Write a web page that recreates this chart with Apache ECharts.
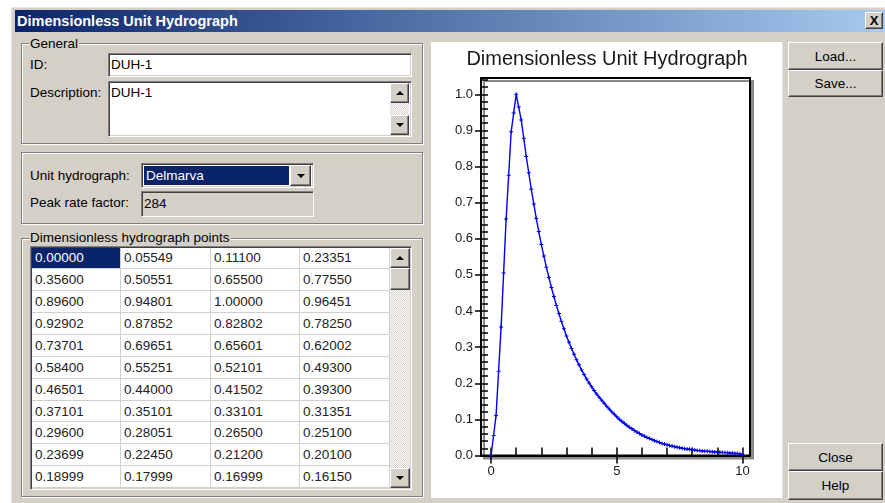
<!DOCTYPE html>
<html><head><meta charset="utf-8">
<script src="https://cdn.jsdelivr.net/npm/echarts@6/dist/echarts.min.js"></script>
<style>
*{box-sizing:border-box;margin:0;padding:0}
body{width:885px;height:503px;background:#fff;position:relative;overflow:hidden;font-family:"Liberation Sans",Arial,sans-serif;font-size:13.5px;color:#000}
.abs{position:absolute}
.dlg{left:11px;top:7px;width:874px;height:496px;background:#d4d0c8;border-left:1px solid #e8e6e2;border-top:1px solid #e8e6e2}
.titlebar{left:15px;top:10px;width:870px;height:22px;background:linear-gradient(to right,#0a246a,#a6caf0);color:#fff;font-weight:bold;font-size:14.5px;line-height:22px;padding-left:2px;white-space:nowrap}
.raised{background:#d4d0c8;border:1px solid;border-color:#fff #404040 #404040 #fff;box-shadow:inset -1px -1px 0 #808080,inset 1px 1px 0 #d4d0c8}
.sunken{border:1px solid;border-color:#808080 #fff #fff #808080;box-shadow:inset 1px 1px 0 #404040,inset -1px -1px 0 #d4d0c8}
.grp{border:1px solid #808080;box-shadow:inset 1px 1px 0 #fff,1px 1px 0 #fff}
.lg{background:#d4d0c8;padding:0 1px;line-height:15px;white-space:nowrap}
.lbl{line-height:15px;white-space:nowrap}
.btn{display:flex;align-items:center;justify-content:center;white-space:nowrap}
.tu{width:0;height:0;border-left:4px solid transparent;border-right:4px solid transparent;border-bottom:4px solid #000}
.td{width:0;height:0;border-left:4px solid transparent;border-right:4px solid transparent;border-top:4px solid #000}
.track{background:repeating-conic-gradient(#fff 0 25%,#d4d0c8 0 50%) 0 0/2px 2px}
.cell{background:#fff;border-right:1px solid #d0d0d0;border-bottom:1px solid #d0d0d0;padding-left:3px;display:flex;align-items:center;white-space:nowrap;color:#222}
.cell.sel{background:#0a246a;color:#fff}
</style>
</head>
<body>
<div class="abs dlg"></div>
<div class="abs titlebar">Dimensionless Unit Hydrograph</div>
<div class="abs raised btn" style="left:865px;top:12px;width:18px;height:17px;font-weight:bold;font-size:13px">X</div>

<!-- General group -->
<div class="abs grp" style="left:21px;top:43px;width:402px;height:101px"></div>
<div class="abs lg" style="left:29px;top:36px">General</div>
<div class="abs lbl" style="left:30px;top:57px">ID:</div>
<div class="abs sunken" style="left:108px;top:53px;width:304px;height:24px;background:#fff"></div>
<div class="abs lbl" style="left:111px;top:57px">DUH-1</div>
<div class="abs lbl" style="left:30px;top:85px">Description:</div>
<div class="abs sunken" style="left:108px;top:81px;width:304px;height:56px;background:#fff"></div>
<div class="abs lbl" style="left:111px;top:85px">DUH-1</div>
<div class="abs raised btn" style="left:390px;top:83px;width:19px;height:20px"><div class="tu"></div></div>
<div class="abs track" style="left:390px;top:103px;width:19px;height:12px"></div>
<div class="abs raised btn" style="left:390px;top:115px;width:19px;height:20px"><div class="td"></div></div>

<!-- Unit hydrograph group -->
<div class="abs grp" style="left:21px;top:152px;width:402px;height:72px"></div>
<div class="abs lbl" style="left:30px;top:168px">Unit hydrograph:</div>
<div class="abs sunken" style="left:141px;top:163px;width:173px;height:25px;background:#fff"></div>
<div class="abs lbl" style="left:144px;top:166px;width:145px;height:19px;background:#0a246a;color:#fff;line-height:19px;padding-left:2px">Delmarva</div>
<div class="abs raised btn" style="left:290px;top:165px;width:21px;height:21px"><div class="td"></div></div>
<div class="abs lbl" style="left:30px;top:195px">Peak rate factor:</div>
<div class="abs sunken" style="left:141px;top:191px;width:173px;height:26px;background:#d4d0c8"></div>
<div class="abs lbl" style="left:144px;top:196px">284</div>

<!-- Points group -->
<div class="abs grp" style="left:21px;top:238px;width:402px;height:259px"></div>
<div class="abs lg" style="left:29px;top:230px">Dimensionless hydrograph points</div>
<div class="abs sunken" style="left:30px;top:246px;width:382px;height:244px;background:#fff"></div>
<div id="cells"></div>
<div class="abs raised btn" style="left:390px;top:248px;width:20px;height:20px"><div class="tu"></div></div>
<div class="abs raised" style="left:390px;top:268px;width:20px;height:22px"></div>
<div class="abs track" style="left:390px;top:290px;width:20px;height:178px"></div>
<div class="abs raised btn" style="left:390px;top:468px;width:20px;height:20px"><div class="td"></div></div>

<!-- Chart panel -->
<div class="abs" style="left:431px;top:42px;width:352px;height:456px;background:#fff;border-right:1px solid #e4e2de"></div>
<div id="chart" class="abs" style="left:431px;top:42px;width:352px;height:456px"></div>

<!-- Right buttons -->
<div class="abs raised btn" style="left:788px;top:42px;width:95px;height:28px">Load...</div>
<div class="abs raised btn" style="left:788px;top:70px;width:95px;height:27px">Save...</div>
<div class="abs raised btn" style="left:788px;top:443px;width:95px;height:28px">Close</div>
<div class="abs raised btn" style="left:788px;top:471px;width:95px;height:29px">Help</div>

<script>
// ---- Data ----
const timeStep = 0.1;
const duhOrdinates = [
  0.00000,0.05549,0.11100,0.23351,0.35600,0.50551,0.65500,0.77550,0.89600,0.94801,
  1.00000,0.96451,0.92902,0.87852,0.82802,0.78250,0.73701,0.69651,0.65601,0.62002,
  0.58400,0.55251,0.52101,0.49300,0.46501,0.44000,0.41502,0.39300,0.37101,0.35101,
  0.33101,0.31351,0.29600,0.28051,0.26500,0.25100,0.23699,0.22450,0.21200,0.20100,
  0.18999,0.17999,0.16999,0.16150,0.15300,0.14450,0.13601,0.12850,0.12100,0.11400,
  0.10700,0.10051,0.09450,0.08901,0.08350,0.07850,0.07400,0.06950,0.06500,0.06100,
  0.05700,0.05350,0.05001,0.04700,0.04400,0.04100,0.03850,0.03600,0.03350,0.03150,
  0.02950,0.02750,0.02600,0.02450,0.02300,0.02150,0.02000,0.01900,0.01800,0.01700,
  0.01600,0.01500,0.01400,0.01350,0.01250,0.01200,0.01150,0.01100,0.01050,0.01000,
  0.00950,0.00900,0.00850,0.00800,0.00750,0.00700,0.00650,0.00600,0.00550,0.00450,
  0.00100
];
const xLabels = [0, 5, 10];
const xMinorTicks = [0,1,2,3,4,5,6,7,8,9,10];
const yLabels = [0,0.1,0.2,0.3,0.4,0.5,0.6,0.7,0.8,0.9,1.0];
const yMinorTicks = [0,0.02,0.04,0.06,0.08,0.1,0.12,0.14,0.16,0.18,0.2,0.22,0.24,0.26,0.28,0.3,0.32,0.34,0.36,0.38,0.4,0.42,0.44,0.46,0.48,0.5,0.52,0.54,0.56,0.58,0.6,0.62,0.64,0.66,0.68,0.7,0.72,0.74,0.76,0.78,0.8,0.82,0.84,0.86,0.88,0.9,0.92,0.94,0.96,0.98,1.0,1.02,1.04];
const tableRows = 11, tableCols = 4;

// ---- Table ----
const colEdges = [32,121,211,300,390];
const rowTop = 247.5, rowH = 21.87;
let html = '';
for (let r = 0; r < tableRows; r++) {
  for (let c = 0; c < tableCols; c++) {
    const v = duhOrdinates[r * tableCols + c];
    html += '<div class="abs cell' + (r === 0 && c === 0 ? ' sel' : '') + '" style="left:' + colEdges[c] + 'px;top:' + (rowTop + r * rowH) + 'px;width:' + (colEdges[c+1]-colEdges[c]) + 'px;height:' + rowH + 'px">' + v.toFixed(5) + '</div>';
  }
}
document.getElementById('cells').innerHTML = html;

// ---- Chart ----
const FF = '"Liberation Sans", Arial, sans-serif';
const seriesData = duhOrdinates.map((v, i) => [+(i * timeStep).toFixed(2), v]);
const xMin = -0.4, xMax = 10.3, yMin = 0, yMax = 1.045;
const tickStyle = {color:'#000', width:1.5};
const chart = echarts.init(document.getElementById('chart'), null, {renderer:'canvas'});
chart.setOption({
  animation: false,
  title: {text:'Dimensionless Unit Hydrograph', left:'center', top:2,
    textStyle:{fontFamily:FF, fontSize:20, fontWeight:'normal', color:'#1a1a1a'}},
  grid: {left:50, top:36, right:33, bottom:42.5, show:true, backgroundColor:'#fff',
    borderColor:'#000', borderWidth:2, shadowColor:'#8a8a8a', shadowOffsetX:3, shadowOffsetY:3, shadowBlur:0},
  xAxis: [
    {type:'value', min:xMin, max:xMax, position:'bottom',
     axisLine:{show:true, onZero:false, lineStyle:{color:'#000', width:2}},
     axisTick:{show:true, inside:false, length:8, customValues:xLabels, lineStyle:tickStyle},
     axisLabel:{customValues:xLabels, margin:9, color:'#1a1a1a', fontSize:13, fontFamily:FF},
     splitLine:{show:false}},
    {type:'value', min:xMin, max:xMax, position:'bottom',
     axisLine:{show:false, onZero:false},
     axisTick:{show:true, inside:true, length:8, customValues:xMinorTicks, lineStyle:tickStyle},
     axisLabel:{show:false}, splitLine:{show:false}}
  ],
  yAxis: [
    {type:'value', min:yMin, max:yMax, position:'left',
     axisLine:{show:true, onZero:false, lineStyle:{color:'#000', width:2}},
     axisTick:{show:true, inside:false, length:6, customValues:yLabels, lineStyle:tickStyle},
     axisLabel:{customValues:yLabels, margin:8, color:'#1a1a1a', fontSize:13, fontFamily:FF,
       formatter: v => v.toFixed(1)},
     splitLine:{show:false}},
    {type:'value', min:yMin, max:yMax, position:'left',
     axisLine:{show:false, onZero:false},
     axisTick:{show:true, inside:true, length:7, customValues:yMinorTicks, lineStyle:tickStyle},
     axisLabel:{show:false}, splitLine:{show:false}}
  ],
  series: [{
    type:'line', xAxisIndex:0, yAxisIndex:0, data:seriesData,
    showSymbol:true, symbol:'path://M0,1.5H4V2.5H0ZM1.5,0H2.5V4H1.5Z', symbolSize:4,
    lineStyle:{color:'#0000ff', width:1.4},
    itemStyle:{color:'#0000e0'},
    emphasis:{disabled:true}
  }]
});
</script>
</body></html>
